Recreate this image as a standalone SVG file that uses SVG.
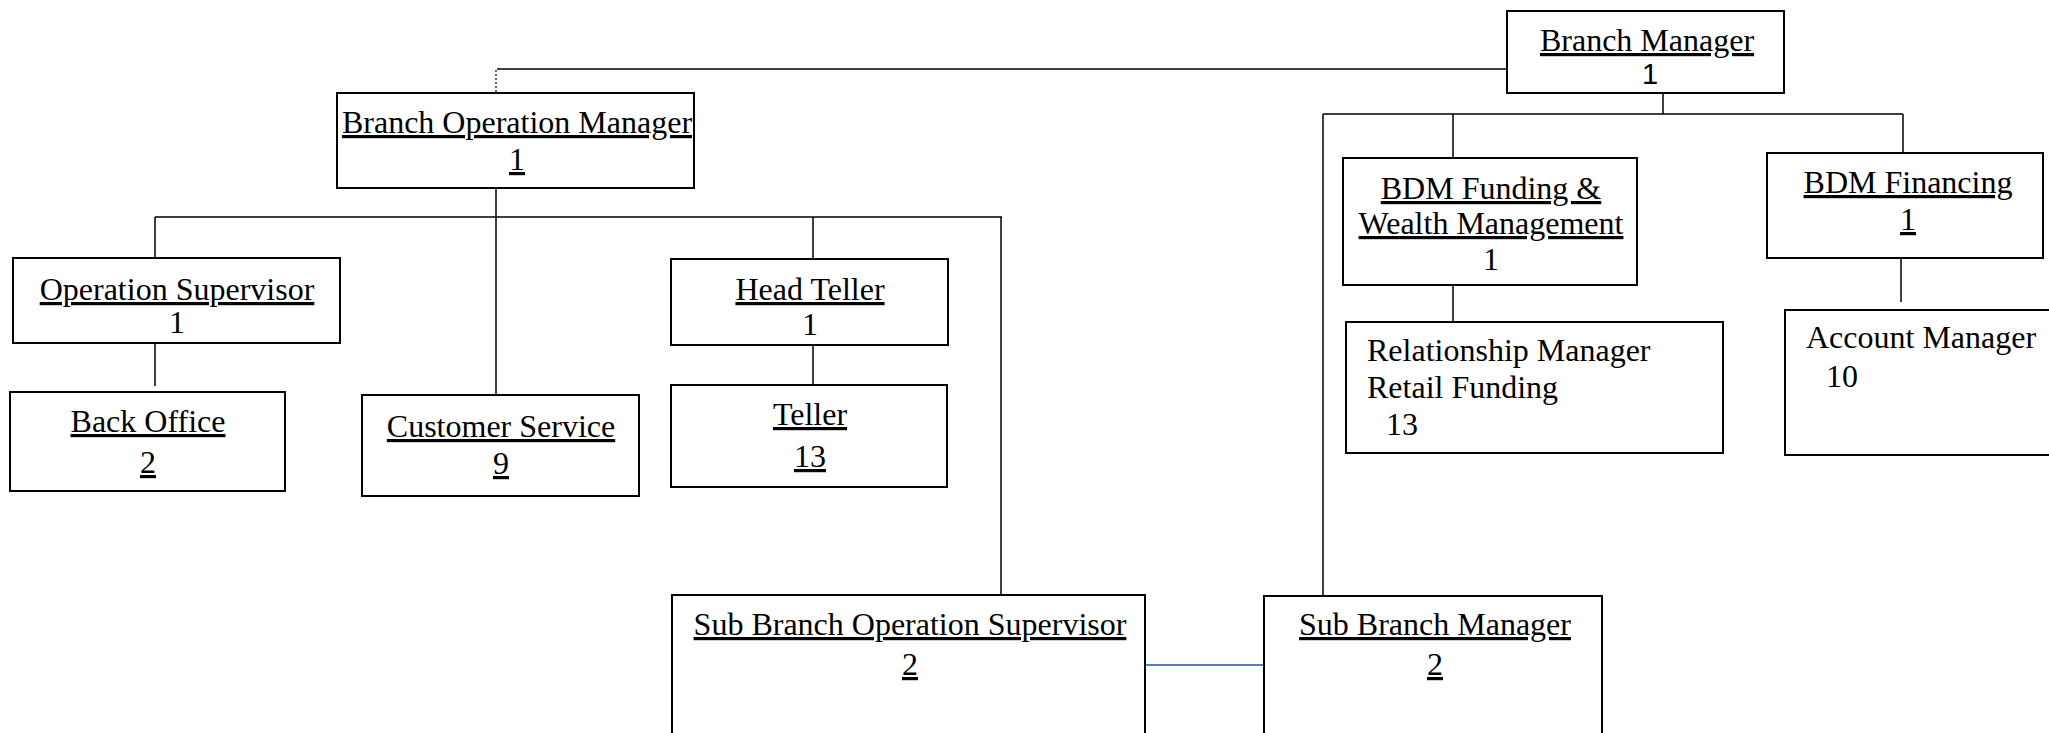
<svg xmlns="http://www.w3.org/2000/svg" width="2049" height="733" viewBox="0 0 2049 733">
  <style>
    .box { fill: #ffffff; stroke: #000000; stroke-width: 2; }
    .t { font-family: "Liberation Serif", "Times New Roman", serif; font-size: 32px; fill: #000000; }
    .s { font-family: "Liberation Sans", Arial, sans-serif; font-size: 29px; fill: #000000; }
    .c { text-anchor: middle; }
    .u { text-decoration: underline; }
    .ln { fill: none; stroke: #000000; stroke-width: 1.5; }
    .dot { fill: none; stroke: #000000; stroke-width: 1.2; stroke-dasharray: 2 2; }
    .peer { fill: none; stroke: #4f81bd; stroke-width: 2; }
  </style>

  <!-- reporting lines -->
  <g id="connectors">
    <!-- Branch Manager to Branch Operation Manager -->
    <polyline class="ln" points="1507,69 497,69"/>
    <line class="dot" x1="496" y1="70" x2="496" y2="93"/>
    <!-- Branch Manager to its bus -->
    <line class="ln" x1="1663" y1="93" x2="1663" y2="114"/>
    <line class="ln" x1="1323" y1="114" x2="1903" y2="114"/>
    <line class="ln" x1="1453" y1="114" x2="1453" y2="158"/>
    <line class="ln" x1="1903" y1="114" x2="1903" y2="153"/>
    <line class="ln" x1="1323" y1="114" x2="1323" y2="596"/>
    <line class="ln" x1="1453" y1="286" x2="1453" y2="323"/>
    <line class="ln" x1="1901" y1="259" x2="1901" y2="302"/>
    <!-- Branch Operation Manager to its bus -->
    <line class="ln" x1="496" y1="188" x2="496" y2="395"/>
    <line class="ln" x1="155" y1="217" x2="1002" y2="217"/>
    <line class="ln" x1="155" y1="217" x2="155" y2="258"/>
    <line class="ln" x1="813" y1="217" x2="813" y2="259"/>
    <line class="ln" x1="1001" y1="217" x2="1001" y2="595"/>
    <line class="ln" x1="155" y1="343" x2="155" y2="386"/>
    <line class="ln" x1="813" y1="345" x2="813" y2="388"/>
    <!-- sub branch peers -->
    <line class="peer" x1="1145" y1="665" x2="1264" y2="665"/>
  </g>

  <g id="branch-manager">
    <rect class="box" x="1507" y="11" width="277" height="82"/>
    <text class="t c u" x="1647" y="51">Branch Manager</text>
    <text class="s c" x="1650" y="84">1</text>
  </g>

  <g id="branch-operation-manager">
    <rect class="box" x="337" y="93" width="357" height="95"/>
    <text class="t c u" x="517" y="133">Branch Operation Manager</text>
    <text class="t c u" x="517" y="170">1</text>
  </g>

  <g id="operation-supervisor">
    <rect class="box" x="13" y="258" width="327" height="85"/>
    <text class="t c u" x="177" y="300">Operation Supervisor</text>
    <text class="t c" x="177" y="333">1</text>
  </g>

  <g id="back-office">
    <rect class="box" x="10" y="392" width="275" height="99"/>
    <text class="t c u" x="148" y="432">Back Office</text>
    <text class="t c u" x="148" y="473">2</text>
  </g>

  <g id="customer-service">
    <rect class="box" x="362" y="395" width="277" height="101"/>
    <text class="t c u" x="501" y="437">Customer Service</text>
    <text class="t c u" x="501" y="474">9</text>
  </g>

  <g id="head-teller">
    <rect class="box" x="671" y="259" width="277" height="86"/>
    <text class="t c u" x="810" y="300">Head Teller</text>
    <text class="t c" x="810" y="335">1</text>
  </g>

  <g id="teller">
    <rect class="box" x="671" y="385" width="276" height="102"/>
    <text class="t c u" x="810" y="425">Teller</text>
    <text class="t c u" x="810" y="467">13</text>
  </g>

  <g id="sub-branch-operation-supervisor">
    <rect class="box" x="672" y="595" width="473" height="170"/>
    <text class="t c u" x="910" y="635">Sub Branch Operation Supervisor</text>
    <text class="t c u" x="910" y="675">2</text>
  </g>

  <g id="sub-branch-manager">
    <rect class="box" x="1264" y="596" width="338" height="170"/>
    <text class="t c u" x="1435" y="635">Sub Branch Manager</text>
    <text class="t c u" x="1435" y="675">2</text>
  </g>

  <g id="bdm-funding-wealth">
    <rect class="box" x="1343" y="158" width="294" height="127"/>
    <text class="t c u" x="1491" y="199">BDM Funding &amp;</text>
    <text class="t c u" x="1491" y="234">Wealth Management</text>
    <text class="t c" x="1491" y="270">1</text>
  </g>

  <g id="bdm-financing">
    <rect class="box" x="1767" y="153" width="276" height="105"/>
    <text class="t c u" x="1908" y="193">BDM Financing</text>
    <text class="t c u" x="1908" y="230">1</text>
  </g>

  <g id="relationship-manager">
    <rect class="box" x="1346" y="322" width="377" height="131"/>
    <text class="t" x="1367" y="361">Relationship Manager</text>
    <text class="t" x="1367" y="398">Retail Funding</text>
    <text class="t" x="1386" y="435">13</text>
  </g>

  <g id="account-manager">
    <rect class="box" x="1785" y="310" width="290" height="145"/>
    <text class="t" x="1806" y="348">Account Manager</text>
    <text class="t" x="1826" y="387">10</text>
  </g>
</svg>
